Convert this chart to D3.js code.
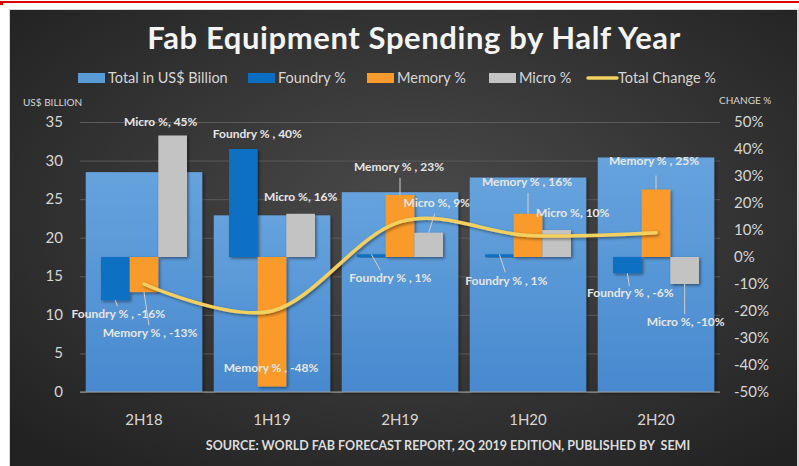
<!DOCTYPE html>
<html>
<head>
<meta charset="utf-8">
<script src="https://cdn.jsdelivr.net/npm/d3@7"></script>
<style>
  html, body { margin: 0; padding: 0; background: #fff; }
  svg { display: block; font-family: Lato, "Open Sans", sans-serif; }
</style>
</head>
<body>
<svg id="chart" width="799" height="466"></svg>
<script>
// data
const periods = ["2H18", "1H19", "2H19", "1H20", "2H20"];
const totalBillion = [28.5, 22.9, 25.9, 27.8, 30.4];
const foundryPct = [-16, 40, 1, 1, -6];
const memoryPct = [-13, -48, 23, 16, 25];
const microPct = [45, 16, 9, 10, -10];
const totalChangePct = [-10, -20, 13, 8, 9];
const leftTicks = [0, 5, 10, 15, 20, 25, 30, 35];
const rightTicks = [-50, -40, -30, -20, -10, 0, 10, 20, 30, 40, 50];

const series = [
  { key: "Foundry %", values: foundryPct, color: "#0a6fc2" },
  { key: "Memory %", values: memoryPct, color: "#f99a2c" },
  { key: "Micro %", values: microPct, color: "#c3c3c3" }
];

// label placement: offset of label centre/baseline from bar end, and leader line end
const labelPos = {
  "Foundry %": [[3, 18, 2, 6], [14, -11], [19, 28, 9, 16], [7, 31, 6, 18], [3, 24, 2, 13]],
  "Memory %": [[6, 45, 5, 33], [-1, -15], [-1, -24, 0, -17], [-1, -28, 0, -21], [-2, -25, 0, -14]],
  "Micro %": [[-12, -10], [0, -13], [8, -26, 6, -19], [16, -13], [1, 42, 0, 30]]
};

const svg = d3.select("#chart");
const W = 799, H = 466;
const plot = { left: 80, right: 720, top: 122, bottom: 392 };

const defs = svg.append("defs");
const bg = defs.append("radialGradient").attr("id", "bg")
  .attr("cx", "52%").attr("cy", "45%").attr("r", "70%");
bg.append("stop").attr("offset", "0%").attr("stop-color", "#4b4b4b");
bg.append("stop").attr("offset", "100%").attr("stop-color", "#222");
const blue = defs.append("linearGradient").attr("id", "blue")
  .attr("x1", 0).attr("y1", 0).attr("x2", 0).attr("y2", 1);
blue.append("stop").attr("offset", "0%").attr("stop-color", "#66a3dd");
blue.append("stop").attr("offset", "100%").attr("stop-color", "#4889cf");
const shadow = defs.append("filter").attr("id", "shadow")
  .attr("x", "-20%").attr("y", "-20%").attr("width", "140%").attr("height", "140%");
shadow.append("feDropShadow").attr("dx", 1.5).attr("dy", 1.5).attr("stdDeviation", 1.5)
  .attr("flood-color", "#000").attr("flood-opacity", 0.45);

// page frame
svg.append("rect").attr("x", 0).attr("y", 1).attr("width", W).attr("height", 2).attr("fill", "#e10000");
svg.append("rect").attr("x", 0).attr("y", 1).attr("width", 3).attr("height", 4).attr("fill", "#e10000");
svg.append("rect").attr("x", 9).attr("y", 9).attr("width", W - 9).attr("height", H - 9).attr("fill", "#d8d8d8");
svg.append("rect").attr("x", 10).attr("y", 10).attr("width", W - 12).attr("height", H - 10).attr("fill", "url(#bg)");

// scales
const x = d3.scaleBand().domain(periods).range([plot.left, plot.right])
  .paddingInner(0.09).paddingOuter(0.045);
const xSub = d3.scaleBand().domain(series.map(s => s.key)).range([-43, 43]);
const yL = d3.scaleLinear().domain([0, 35]).range([plot.bottom, plot.top]);
const yR = d3.scaleLinear().domain([-50, 50]).range([plot.bottom, plot.top]);
const cx = p => x(p) + x.bandwidth() / 2;

// gridlines
svg.append("g")
  .attr("transform", `translate(${plot.left},0)`)
  .call(d3.axisLeft(yL).tickValues(leftTicks).tickSize(-(plot.right - plot.left)).tickFormat(""))
  .call(g => g.select(".domain").remove())
  .call(g => g.selectAll("line").attr("stroke", "#5a5a5a").attr("stroke-width", 1));

// total bars
svg.append("g").selectAll("rect")
  .data(periods)
  .join("rect")
  .attr("x", d => x(d))
  .attr("y", (d, i) => yL(totalBillion[i]))
  .attr("width", x.bandwidth())
  .attr("height", (d, i) => yL(0) - yL(totalBillion[i]))
  .attr("fill", "url(#blue)")
  .attr("filter", "url(#shadow)");

// segment bars
series.forEach(s => {
  svg.append("g").selectAll("rect")
    .data(periods)
    .join("rect")
    .attr("x", d => cx(d) + xSub(s.key))
    .attr("y", (d, i) => yR(Math.max(0, s.values[i])))
    .attr("width", xSub.bandwidth())
    .attr("height", (d, i) => Math.abs(yR(s.values[i]) - yR(0)))
    .attr("fill", s.color)
    .attr("filter", "url(#shadow)");
});

// baseline
svg.append("line").attr("x1", plot.left).attr("x2", plot.right)
  .attr("y1", yL(0)).attr("y2", yL(0)).attr("stroke", "#9a9a9a").attr("stroke-width", 1);

// total change line
const line = d3.line()
  .x((d, i) => cx(periods[i]))
  .y(d => yR(d))
  .curve(d3.curveCardinal.tension(0));
svg.append("path").datum(totalChangePct)
  .attr("d", line).attr("fill", "none")
  .attr("stroke", "#f3d060").attr("stroke-width", 3.5).attr("stroke-linecap", "round")
  .attr("filter", "url(#shadow)");

// data labels
const labels = svg.append("g").attr("font-size", 12).attr("font-weight", 700).attr("fill", "#e6e6e6");
series.forEach(s => {
  periods.forEach((p, i) => {
    const v = s.values[i];
    const ax = cx(p) + xSub(s.key) + xSub.bandwidth() / 2;
    const ay = yR(v);
    const o = labelPos[s.key][i];
    if (o.length > 2) {
      labels.append("line")
        .attr("x1", ax).attr("y1", ay)
        .attr("x2", ax + o[2]).attr("y2", ay + o[3])
        .attr("stroke", "#cfcfcf").attr("stroke-width", 1);
    }
    const name = s.key === "Micro %" ? "Micro %, " : s.key + " , ";
    labels.append("text")
      .attr("x", ax + o[0]).attr("y", ay + o[1])
      .attr("text-anchor", "middle")
      .text(name + v + "%");
  });
});

// axes labels
const axisColor = "#d6d6d6";
svg.append("g").selectAll("text").data(leftTicks).join("text")
  .attr("x", 63).attr("y", d => yL(d) + 5)
  .attr("text-anchor", "end").attr("font-size", 15).attr("fill", axisColor)
  .text(d => d);
svg.append("g").selectAll("text").data(rightTicks).join("text")
  .attr("x", 734).attr("y", d => yR(d) + 5)
  .attr("font-size", 15).attr("fill", axisColor)
  .text(d => d + "%");
svg.append("g").selectAll("text").data(periods).join("text")
  .attr("x", d => cx(d)).attr("y", 425)
  .attr("text-anchor", "middle").attr("font-size", 15).attr("fill", axisColor)
  .text(d => d);
svg.append("text").attr("x", 23).attr("y", 106).attr("font-size", 10).attr("fill", axisColor).text("US$ BILLION");
svg.append("text").attr("x", 719).attr("y", 104).attr("font-size", 10).attr("fill", axisColor).text("CHANGE %");

// title
svg.append("text").attr("x", 414).attr("y", 49).attr("text-anchor", "middle")
  .attr("font-size", 31).attr("font-weight", 700).attr("fill", "#f4f4f4")
  .attr("letter-spacing", 0.6)
  .text("Fab Equipment Spending by Half Year");

// legend
const legendItems = [
  { label: "Total in US$ Billion", color: "#5b9bd5", x: 78 },
  { label: "Foundry %", color: "#0a6fc2", x: 248 },
  { label: "Memory %", color: "#f99a2c", x: 367 },
  { label: "Micro %", color: "#c3c3c3", x: 489 },
  { label: "Total Change %", color: "#f3d060", x: 588, line: true }
];
const legend = svg.append("g");
legendItems.forEach(it => {
  if (it.line) {
    legend.append("line").attr("x1", it.x).attr("x2", it.x + 29).attr("y1", 78).attr("y2", 78)
      .attr("stroke", it.color).attr("stroke-width", 3.5).attr("stroke-linecap", "round");
  } else {
    legend.append("rect").attr("x", it.x).attr("y", 73).attr("width", 27).attr("height", 10)
      .attr("fill", it.color);
  }
  legend.append("text").attr("x", it.x + (it.line ? 30 : 30)).attr("y", 83)
    .attr("font-size", 14.5).attr("fill", axisColor).text(it.label);
});

// source
svg.append("text").attr("x", 448).attr("y", 450).attr("text-anchor", "middle")
  .attr("font-size", 12.5).attr("font-weight", 700).attr("fill", "#dcdcdc")
  .text("SOURCE: WORLD FAB FORECAST REPORT, 2Q 2019 EDITION, PUBLISHED BY  SEMI")
  .style("white-space", "pre");
</script>
</body>
</html>
